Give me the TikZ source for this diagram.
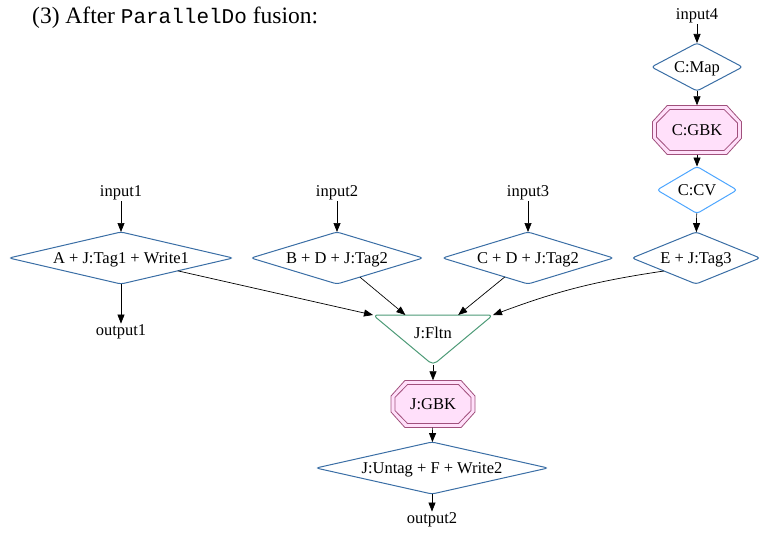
\documentclass[tikz,border=0pt]{standalone}
\usepackage{fontspec}
\setmainfont{Liberation Serif}
\setmonofont{Liberation Mono}
\usetikzlibrary{shapes.geometric,arrows.meta,calc,backgrounds}
\definecolor{dblue}{HTML}{3A6EA5}
\definecolor{lblue}{HTML}{4DA6FF}
\definecolor{fgreen}{HTML}{4C9A76}
\definecolor{pinkfill}{HTML}{FFE0FA}
\definecolor{pinkline}{HTML}{A0507C}
\newcommand{\octdraw}[4]{\draw[#4] ($(#1)+({-0.67*#2},{-#3})$) -- ($(#1)+({0.67*#2},{-#3})$) -- ($(#1)+({#2},{-0.34*#3})$) -- ($(#1)+({#2},{0.34*#3})$) -- ($(#1)+({0.67*#2},{#3})$) -- ($(#1)+({-0.67*#2},{#3})$) -- ($(#1)+({-#2},{0.34*#3})$) -- ($(#1)+({-#2},{-0.34*#3})$) -- cycle;}
\newcommand{\dtx}[1]{\makebox[0pt]{\raisebox{-0.33em}[0pt][0pt]{#1}}}
\begin{document}
\begin{tikzpicture}[x=1pt,y=-1pt, font=\fontsize{16.5}{19}\selectfont,
 txt/.style={inner sep=1pt},
 dia/.style={diamond, draw=dblue, line width=1pt, rounded corners=3pt, inner sep=0pt, outer sep=0pt, fill=white},
 oct/.style={rectangle, inner sep=0pt},
 arr/.style={-{Triangle[length=9pt,width=7pt]}, line width=0.7pt}]
\useasboundingbox (0,0) rectangle (762,535);
\node[anchor=west, inner sep=0pt, font=\fontsize{23.5}{26}\selectfont] (title) at (32,18) {(3) After {\fontsize{21}{24}\selectfont\ttfamily ParallelDo} fusion:};
% column 4
\node[txt] (in4) at (697,16) {input4};
\node[dia, minimum width=91pt, minimum height=48pt] (cmap) at (697,67) {\dtx{C:Map}};
\node[oct, minimum width=89pt, minimum height=49pt] (cgbk) at (697,130) {C:GBK};
\node[dia, draw=lblue, minimum width=80pt, minimum height=47pt] (ccv) at (697,190) {\dtx{C:CV}};
\node[dia, minimum width=128pt, minimum height=52pt] (etag) at (696,258) {\dtx{E + J:Tag3}};
% column 1
\node[txt] (in1) at (121,193) {input1};
\node[dia, minimum width=224pt, minimum height=52pt] (a) at (121,258) {\dtx{A + J:Tag1 + Write1}};
\node[txt] (out1) at (121,332) {output1};
% column 2
\node[txt] (in2) at (337,193) {input2};
\node[dia, minimum width=172pt, minimum height=52pt] (b) at (337,258) {\dtx{B + D + J:Tag2}};
% column 3
\node[txt] (in3) at (528,193) {input3};
\node[dia, minimum width=171pt, minimum height=52pt] (c) at (528,258) {\dtx{C + D + J:Tag2}};
% flatten
\node[txt] (fltn) at (433,333) {J:Fltn};
\coordinate (fNW) at ($(fltn)+(-60,-18)$);
\coordinate (fNE) at ($(fltn)+(60,-18)$);
\coordinate (fS) at ($(fltn)+(0,32)$);
\coordinate (fB) at ($(fNW)!0.27!(fNE)$);
\coordinate (fC) at ($(fNW)!0.71!(fNE)$);
\draw[fgreen, line width=1pt, rounded corners=5pt] (fNW) -- (fNE) -- (fS) -- cycle;
\node[oct, minimum width=84pt, minimum height=47pt] (jgbk) at (433,404) {J:GBK};
\node[dia, minimum width=232pt, minimum height=52pt] (untag) at (432,468) {\dtx{J:Untag + F + Write2}};
\node[txt] (out2) at (432,520) {output2};
\begin{scope}[on background layer]
\octdraw{cgbk}{44.5}{24.5}{pinkline, fill=pinkfill, line width=0.8pt}
\octdraw{cgbk}{40.5}{20.5}{pinkline, line width=0.8pt}
\octdraw{jgbk}{42}{23.5}{pinkline, fill=pinkfill, line width=0.8pt}
\octdraw{jgbk}{38}{19.5}{pinkline, line width=0.8pt}
\end{scope}
% edges
\draw[arr] (in4) -- (cmap);
\draw[arr] (cmap) -- (cgbk);
\draw[arr] (cgbk) -- (ccv);
\draw[arr] (ccv) -- (etag);
\draw[arr] (in1) -- (a);
\draw[arr] (a) -- (out1);
\draw[arr] (in2) -- (b);
\draw[arr] (in3) -- (c);
\draw[arr] (a) -- (fNW);
\draw[arr] (b) -- (fB);
\draw[arr] (c) -- (fC);
\draw[arr] (etag.south west) to[bend right=6] (fNE);
\draw[arr] (fS) -- (jgbk);
\draw[arr] (jgbk) -- (untag);
\draw[arr] (untag) -- (out2);
\end{tikzpicture}
\end{document}
